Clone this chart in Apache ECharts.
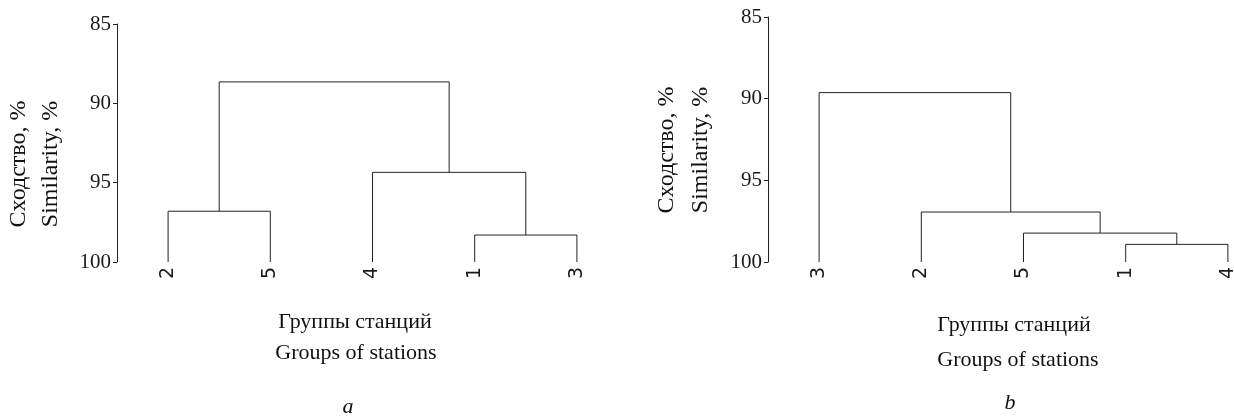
<!DOCTYPE html>
<html>
<head>
<meta charset="utf-8">
<script src="https://cdn.jsdelivr.net/npm/echarts@6/dist/echarts.min.js"></script>
<style>html,body{margin:0;padding:0;background:#fff;}#c{width:1234px;height:416px;}</style>
</head>
<body>
<div id="c"></div>
<script>
// Leaf order (stations) for each dendrogram
var leavesA = ['2', '5', '4', '1', '3'];
var leavesB = ['3', '2', '5', '1', '4'];
// Merges: [left, right, similarity %]; numbers = leaf position, 'mK' = K-th merge
var mergesA = [[3, 4, 98.3], [0, 1, 96.8], [2, 'm0', 94.35], ['m1', 'm2', 88.65]];
var mergesB = [[3, 4, 98.92], [2, 'm0', 98.23], [1, 'm1', 96.94], [0, 'm2', 89.63]];
// Y axis ticks
var yMin = 85, yMax = 100, yStep = 5;
var leafLevel = 100;

function buildLinks(merges) {
  var nodes = [];
  var links = [];
  function pos(ref) {
    if (typeof ref === 'number') return { x: ref, y: leafLevel };
    return nodes[parseInt(ref.slice(1), 10)];
  }
  merges.forEach(function (m) {
    var a = pos(m[0]), b = pos(m[1]), h = m[2];
    links.push([[a.x, a.y], [a.x, h], [b.x, h], [b.x, b.y]]);
    nodes.push({ x: (a.x + b.x) / 2, y: h });
  });
  return links;
}

var serif = '"Liberation Serif", "Times New Roman", serif';
var sans = '"DejaVu Sans", sans-serif';

function yAxisCfg(gi) {
  return {
    type: 'value', gridIndex: gi, inverse: true, min: yMin, max: yMax, interval: yStep,
    position: 'left',
    axisLine: { show: true, onZero: false, lineStyle: { color: '#222', width: 1 } },
    axisTick: { show: true, length: 4, lineStyle: { color: '#222' } },
    axisLabel: { fontFamily: serif, fontSize: 21, color: '#1a1a1a', margin: 6 },
    splitLine: { show: false }
  };
}
function xValCfg(gi) {
  return { type: 'value', gridIndex: gi, min: -0.5, max: 4.5, show: false, splitLine: { show: false } };
}
function xCatCfg(gi, leaves) {
  return {
    type: 'category', gridIndex: gi, data: leaves, boundaryGap: true, position: 'bottom',
    axisLine: { show: false, onZero: false }, axisTick: { show: false },
    axisLabel: { rotate: 90, fontFamily: sans, fontSize: 19, color: '#1a1a1a', margin: 5 }
  };
}

var series = [];
function addLinks(links, xi, yi) {
  links.forEach(function (pts) {
    series.push({
      type: 'line', xAxisIndex: xi, yAxisIndex: yi, data: pts,
      symbol: 'none', silent: true, animation: false, clip: false,
      lineStyle: { color: '#222', width: 1 }
    });
  });
}
addLinks(buildLinks(mergesA), 0, 0);
addLinks(buildLinks(mergesB), 2, 1);

function txt(text, x, y, opts) {
  opts = opts || {};
  return {
    type: 'text', x: x, y: y, rotation: opts.rot || 0, silent: true,
    style: {
      text: text, fill: '#111',
      font: (opts.italic ? 'italic ' : '') + (opts.size || 22) + 'px ' + serif,
      textAlign: 'center', textVerticalAlign: 'middle',
      lineHeight: opts.lh || 30
    }
  };
}

var chart = echarts.init(document.getElementById('c'), null, { renderer: 'canvas' });
chart.setOption({
  animation: false,
  backgroundColor: '#fff',
  grid: [
    { left: 117, top: 24, width: 511, height: 238, outerBoundsMode: 'none', containLabel: false },
    { left: 768, top: 17, width: 511, height: 245, outerBoundsMode: 'none', containLabel: false }
  ],
  xAxis: [xValCfg(0), xCatCfg(0, leavesA), xValCfg(1), xCatCfg(1, leavesB)],
  yAxis: [yAxisCfg(0), yAxisCfg(1)],
  series: series,
  graphic: [
    txt('Сходство, %\nSimilarity, %', 35, 164, { rot: Math.PI / 2, lh: 32, size: 24 }),
    txt('Сходство, %\nSimilarity, %', 684, 150, { rot: Math.PI / 2, lh: 34, size: 24 }),
    txt('Группы станций', 355, 322),
    txt('Groups of stations', 356, 353),
    txt('a', 348, 407, { italic: true }),
    txt('Группы станций', 1014, 325),
    txt('Groups of stations', 1018, 360),
    txt('b', 1010, 403, { italic: true })
  ]
});
</script>
</body>
</html>
